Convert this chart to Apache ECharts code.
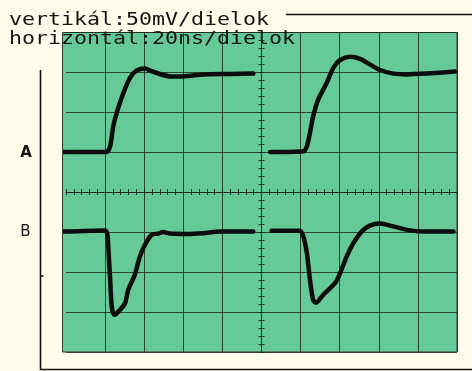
<!DOCTYPE html>
<html>
<head>
<meta charset="utf-8">
<script src="https://cdn.jsdelivr.net/npm/echarts@6/dist/echarts.min.js"></script>
<style>
  html, body { margin: 0; padding: 0; background: #fffde9; }
  #chart { width: 472px; height: 371px; }
</style>
</head>
<body>
<div id="chart"></div>
<script>
// Header texts
const titleLines = ['vertikál:50mV/dielok', 'horizontál:20ns/dielok'];
const traceLabels = ['A', 'B'];

// Axis ranges in screen divisions (centred on the scope's crosshair)
const xDivs = [-5, 5];
const yDivs = [-4, 4];

// Trace A (step response, two captures) : [time div, amplitude div]
const traceA = [
  [-5.08, 1.0], [-3.96, 1.0], [-3.87, 1.15], [-3.79, 1.65], [-3.69, 2.02], [-3.53, 2.48],
  [-3.36, 2.86], [-3.19, 3.04], [-2.98, 3.09], [-2.81, 3.02], [-2.60, 2.95], [-2.34, 2.89],
  [-2.0, 2.89], [-1.49, 2.94], [-0.8, 2.95], [-0.21, 2.96],
  null,
  [0.22, 1.0], [1.07, 1.02], [1.16, 1.14], [1.24, 1.48], [1.32, 1.89], [1.45, 2.31],
  [1.67, 2.73], [1.84, 3.11], [2.01, 3.30], [2.26, 3.38], [2.52, 3.33], [2.77, 3.19],
  [3.03, 3.05], [3.37, 2.96], [3.71, 2.94], [4.22, 2.96], [4.95, 3.01]
];

// Trace B (pulse response, two captures)
const traceB = [
  [-5.07, -0.99], [-4.0, -0.96], [-3.94, -1.07], [-3.91, -1.53], [-3.87, -2.2], [-3.83, -2.87],
  [-3.77, -3.07], [-3.66, -2.99], [-3.49, -2.78], [-3.41, -2.45], [-3.24, -2.07], [-3.11, -1.61],
  [-2.98, -1.32], [-2.81, -1.07], [-2.64, -1.04], [-2.51, -1.0], [-2.34, -1.04], [-1.91, -1.05],
  [-1.49, -1.03], [-1.06, -0.99], [-0.21, -0.99],
  null,
  [0.26, -0.97], [0.98, -0.97], [1.07, -1.11], [1.16, -1.53], [1.24, -2.2], [1.32, -2.7],
  [1.39, -2.77], [1.58, -2.57], [1.88, -2.28], [2.01, -2.03], [2.18, -1.61], [2.35, -1.28],
  [2.56, -0.99], [2.77, -0.84], [3.03, -0.79], [3.37, -0.86], [3.80, -0.96], [4.22, -0.99],
  [4.91, -0.99]
];

const chart = echarts.init(document.getElementById('chart'), null, { renderer: 'canvas' });

const GRID_LINE = 'rgba(35,45,35,0.85)';
const CENTER_LINE = 'rgba(30,40,30,0.9)';

function baseX(extra) {
  return Object.assign({
    type: 'value', min: xDivs[0], max: xDivs[1], interval: 1,
    axisLabel: { show: false }, splitLine: { show: false },
    axisTick: { show: false }, axisLine: { show: false }
  }, extra);
}
function baseY(extra) {
  return Object.assign({
    type: 'value', min: yDivs[0], max: yDivs[1], interval: 1,
    axisLabel: { show: false }, splitLine: { show: false },
    axisTick: { show: false }, axisLine: { show: false }
  }, extra);
}
const tickStyle = { color: CENTER_LINE, width: 1 };

const option = {
  backgroundColor: '#fffde9',
  animation: false,
  grid: { left: 66, right: 15, top: 32, bottom: 19, show: false },
  graphic: [
    // green screen
    { type: 'rect', z: -10, shape: { x: 62.5, y: 32.5, width: 394.5, height: 319.5 },
      style: { fill: '#66c998', stroke: '#2c3a2e', lineWidth: 1 } },
    // outer frame
    { type: 'polyline', z: -5, shape: { points: [[286, 14.5], [472, 14.5]] },
      style: { stroke: '#111', lineWidth: 1.6, fill: null } },
    { type: 'polyline', z: -5, shape: { points: [[40.5, 70], [40.5, 369.5], [472, 369.5]] },
      style: { stroke: '#111', lineWidth: 1.6, fill: null } },
    { type: 'polyline', z: -5, shape: { points: [[40, 276], [43.5, 276]] },
      style: { stroke: '#111', lineWidth: 1.5, fill: null } },
    // titles
    { type: 'text', x: 9, y: 20, scaleX: 1.2, z: 10,
      style: { text: titleLines[0], font: '18px "DejaVu Sans Mono"', fill: '#141414', verticalAlign: 'middle' } },
    { type: 'text', x: 9, y: 39.7, scaleX: 1.2, z: 10,
      style: { text: titleLines[1], font: '18px "DejaVu Sans Mono"', fill: '#141414', verticalAlign: 'middle' } },
    // trace labels
    { type: 'text', x: 26, y: 153, z: 10,
      style: { text: traceLabels[0], font: 'bold 15px "DejaVu Sans"', fill: '#141414', align: 'center', verticalAlign: 'middle' } },
    { type: 'text', x: 25.5, y: 232.5, z: 10,
      style: { text: traceLabels[1], font: '15px "DejaVu Sans"', fill: '#141414', align: 'center', verticalAlign: 'middle' } }
  ],
  xAxis: [
    baseX({ splitLine: { show: true, showMinLine: false, lineStyle: { color: GRID_LINE, width: 1 } } }),
    baseX({ axisLine: { show: true, onZero: true, onZeroAxisIndex: 0, lineStyle: { color: CENTER_LINE, width: 1 } },
            axisTick: { show: true, length: 3, inside: false, lineStyle: tickStyle },
            minorTick: { show: true, splitNumber: 5, length: 3, lineStyle: tickStyle } }),
    baseX({ axisLine: { show: false, onZero: true, onZeroAxisIndex: 0 },
            axisTick: { show: true, length: 3, inside: true, lineStyle: tickStyle },
            minorTick: { show: true, splitNumber: 5, length: 3, lineStyle: tickStyle } })
  ],
  yAxis: [
    baseY({ splitLine: { show: true, lineStyle: { color: GRID_LINE, width: 1.2 } } }),
    baseY({ axisLine: { show: true, onZero: true, onZeroAxisIndex: 0, lineStyle: { color: CENTER_LINE, width: 1 } },
            axisTick: { show: true, length: 3, inside: false, lineStyle: tickStyle },
            minorTick: { show: true, splitNumber: 5, length: 3, lineStyle: tickStyle } }),
    baseY({ axisLine: { show: false, onZero: true, onZeroAxisIndex: 0 },
            axisTick: { show: true, length: 3, inside: true, lineStyle: tickStyle },
            minorTick: { show: true, splitNumber: 5, length: 3, lineStyle: tickStyle } })
  ],
  series: [
    { type: 'line', name: traceLabels[0], data: traceA, xAxisIndex: 0, yAxisIndex: 0,
      showSymbol: false, symbol: 'none', clip: false, connectNulls: false, smooth: 0.25,
      lineStyle: { color: '#0d0d0d', width: 4.5, cap: 'round', join: 'round' }, z: 5 },
    { type: 'line', name: traceLabels[1], data: traceB, xAxisIndex: 0, yAxisIndex: 0,
      showSymbol: false, symbol: 'none', clip: false, connectNulls: false, smooth: 0.25,
      lineStyle: { color: '#0d0d0d', width: 4.5, cap: 'round', join: 'round' }, z: 5 }
  ]
};
chart.setOption(option);
</script>
</body>
</html>
